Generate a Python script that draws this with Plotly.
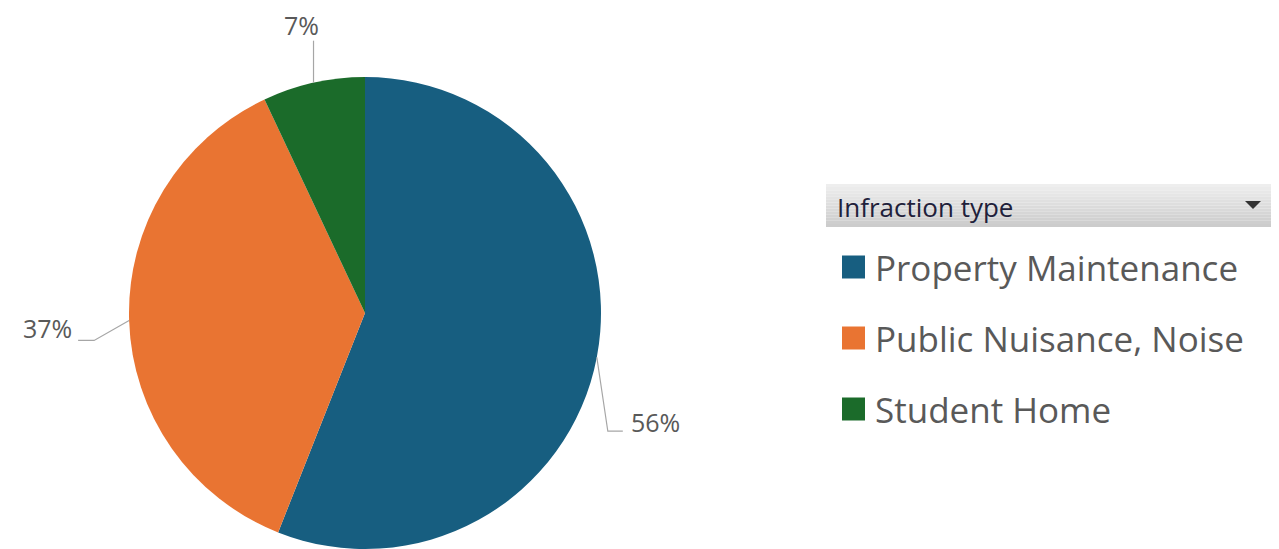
import math
import plotly.graph_objects as go

# page offset (default body margin) and figure size
OFF = 8
W, H = 1279 - OFF, 549 - OFF

categories = ["Property Maintenance", "Public Nuisance, Noise", "Student Home"]
values = [56, 37, 7]
colors = ["#175E80", "#E97432", "#1B6B2A"]
legend_title = "Infraction type"

FONT = "Open Sans"
GRAY = "#595959"

# pie geometry (screen pixels)
cx, cy, R = 365, 313, 236

def px(x):
    return (x - OFF) / W

def py(y):
    return 1 - (y - OFF) / H

fig = go.Figure()
fig.add_trace(go.Pie(
    labels=categories,
    values=values,
    marker=dict(colors=colors, line=dict(color="white", width=0)),
    sort=False,
    direction="clockwise",
    rotation=0,
    textinfo="none",
    hoverinfo="label+percent",
    showlegend=False,
    domain=dict(x=[px(cx - R), px(cx + R)], y=[max(0, py(cy + R)), min(1, py(cy - R))]),
))

shapes = []
annotations = []

total = sum(values)
cum = 0
# leader-line: (elbow dx, dy, horizontal tail, label dx, label dy, anchor)
leader = [(11, 74, 15, 7, -9, "left"),
          (-35, 20, -16, -5, -12, "right"),
          (0, -42, 0, -12, -16, "center")]
for v, (dx, dy, tail, lx, ly, anc) in zip(values, leader):
    mid = (cum + v / 2) / total * 2 * math.pi
    cum += v
    sx = cx + R * math.sin(mid)
    sy = cy - R * math.cos(mid)
    ex, ey = sx + dx, sy + dy
    tx, ty = ex + tail, ey
    path = f"M {px(sx)},{py(sy)} L {px(ex)},{py(ey)} L {px(tx)},{py(ty)}"
    shapes.append(dict(type="path", xref="paper", yref="paper", path=path,
                       line=dict(color="#A6A6A6", width=1.2)))
    pct = f"{round(v / total * 100)}%"
    annotations.append(dict(x=px(tx + lx), y=py(ty + ly), text=pct, xanchor=anc,
                            yanchor="middle", showarrow=False, borderpad=0,
                            font=dict(family=FONT, size=25, color=GRAY)))

# legend header with gradient
hx0, hx1, hy0, hy1 = 826, 1276, 184, 227
n = 14
for i in range(n):
    t = i / (n - 1)
    c = int(238 - t * 34)
    shapes.append(dict(type="rect", xref="paper", yref="paper",
                       x0=px(hx0), x1=px(hx1),
                       y0=py(hy0 + (hy1 - hy0) * (i + 1) / n),
                       y1=py(hy0 + (hy1 - hy0) * i / n),
                       fillcolor=f"rgb({c},{c},{c})", line=dict(width=0)))
annotations.append(dict(x=px(835), y=py(207), text=legend_title, xanchor="left",
                        yanchor="middle", showarrow=False,
                        font=dict(family=FONT, size=26, color="#20203A")))
# dropdown triangle
shapes.append(dict(type="path", xref="paper", yref="paper",
                   path=f"M {px(1245)},{py(201)} L {px(1261)},{py(201)} L {px(1253)},{py(209)} Z",
                   fillcolor="#333333", line=dict(width=0)))

# legend items
ys = [267, 338, 409]
for cat, col, yc in zip(categories, colors, ys):
    shapes.append(dict(type="rect", xref="paper", yref="paper",
                       x0=px(842), x1=px(865), y0=py(yc + 11.5), y1=py(yc - 11.5),
                       fillcolor=col, line=dict(width=0)))
    annotations.append(dict(x=px(873), y=py(yc), text=cat, xanchor="left",
                            yanchor="middle", showarrow=False,
                            font=dict(family=FONT, size=35, color=GRAY)))

fig.update_layout(
    width=W, height=H,
    margin=dict(l=0, r=0, t=0, b=0),
    paper_bgcolor="white",
    plot_bgcolor="white",
    shapes=shapes,
    annotations=annotations,
)

fig.write_html("out.html")
